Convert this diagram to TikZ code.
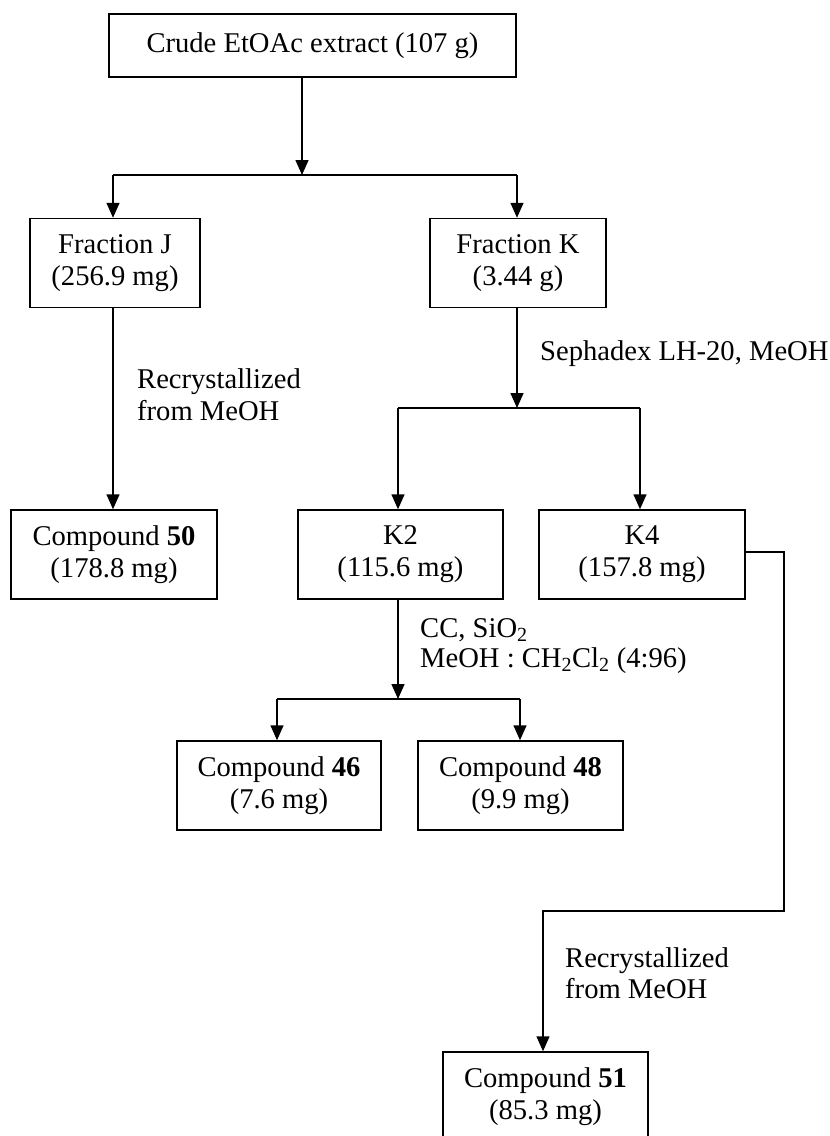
\documentclass[tikz,border=0pt]{standalone}
\usepackage{fontspec}
\setmainfont{Liberation Serif}
\usetikzlibrary{arrows.meta}
\begin{document}
\begin{tikzpicture}[x=1pt,y=-1pt,
  every node/.style={font=\fontsize{28.6}{32}\selectfont},
  box/.style={draw, line width=1.5pt, rectangle, inner sep=0pt, align=center, minimum height=89pt},
  lab/.style={anchor=base west, inner sep=0pt},
  conn/.style={line width=1.5pt},
  arr/.style={line width=1.5pt, -{Triangle[length=15pt,width=13pt]}}]
\useasboundingbox (0,0) rectangle (830,1136);
% boxes
\node[box, minimum width=407pt, minimum height=63pt] (crude) at (312.5,45.5) {Crude EtOAc extract (107 g)};
\node[box, minimum width=170pt] (J) at (115,263) {Fraction J\\(256.9 mg)};
\node[box, minimum width=176pt] (K) at (518,263) {Fraction K\\(3.44 g)};
\node[box, minimum width=206pt] (c50) at (114,554.5) {Compound \textbf{50}\\(178.8 mg)};
\node[box, minimum width=205pt] (K2) at (400.5,554.5) {K2\\(115.6 mg)};
\node[box, minimum width=206pt] (K4) at (642,554.5) {K4\\(157.8 mg)};
\node[box, minimum width=204pt] (c46) at (279,785.5) {Compound \textbf{46}\\(7.6 mg)};
\node[box, minimum width=205pt] (c48) at (520.5,785.5) {Compound \textbf{48}\\(9.9 mg)};
\node[box, minimum width=205pt] (c51) at (545.5,1096.5) {Compound \textbf{51}\\(85.3 mg)};
% split points
\coordinate (s1) at (302,175);
\coordinate (s1l) at (113,175);
\coordinate (s1r) at (517,175);
\coordinate (s2) at (517,408);
\coordinate (s2l) at (398,408);
\coordinate (s2r) at (640,408);
\coordinate (s3) at (398,699);
\coordinate (s3l) at (277,699);
\coordinate (s3r) at (520,699);
\coordinate (k4a) at (744,552);
\coordinate (k4b) at (784,552);
\coordinate (k4c) at (784,911);
\coordinate (k4d) at (543,911);
% connectors
\draw[arr] (crude.south -| s1) -- (s1);
\draw[conn] (s1l) -- (s1r);
\draw[arr] (s1l) -- (s1l |- J.north);
\draw[arr] (s1r) -- (s1r |- K.north);
\draw[arr] (J.south -| s1l) -- (s1l |- c50.north);
\draw[arr] (K.south -| s2) -- (s2);
\draw[conn] (s2l) -- (s2r);
\draw[arr] (s2l) -- (s2l |- K2.north);
\draw[arr] (s2r) -- (s2r |- K4.north);
\draw[arr] (K2.south -| s3) -- (s3);
\draw[conn] (s3l) -- (s3r);
\draw[arr] (s3l) -- (s3l |- c46.north);
\draw[arr] (s3r) -- (s3r |- c48.north);
\draw[arr] (k4a) -- (k4b) -- (k4c) -- (k4d) -- (k4d |- c51.north);
% labels
\node[lab] (r1a) at (137,388) {Recrystallized};
\node[lab] (r1b) at (137,420) {from MeOH};
\node[lab] (seph) at (540,360) {Sephadex LH-20, MeOH};
\node[lab] (cc1) at (420,637) {CC, SiO\textsubscript{2}};
\node[lab] (cc2) at (420,667) {MeOH : CH\textsubscript{2}Cl\textsubscript{2} (4:96)};
\node[lab] (r2a) at (565,967) {Recrystallized};
\node[lab] (r2b) at (565,998) {from MeOH};
\end{tikzpicture}
\end{document}
